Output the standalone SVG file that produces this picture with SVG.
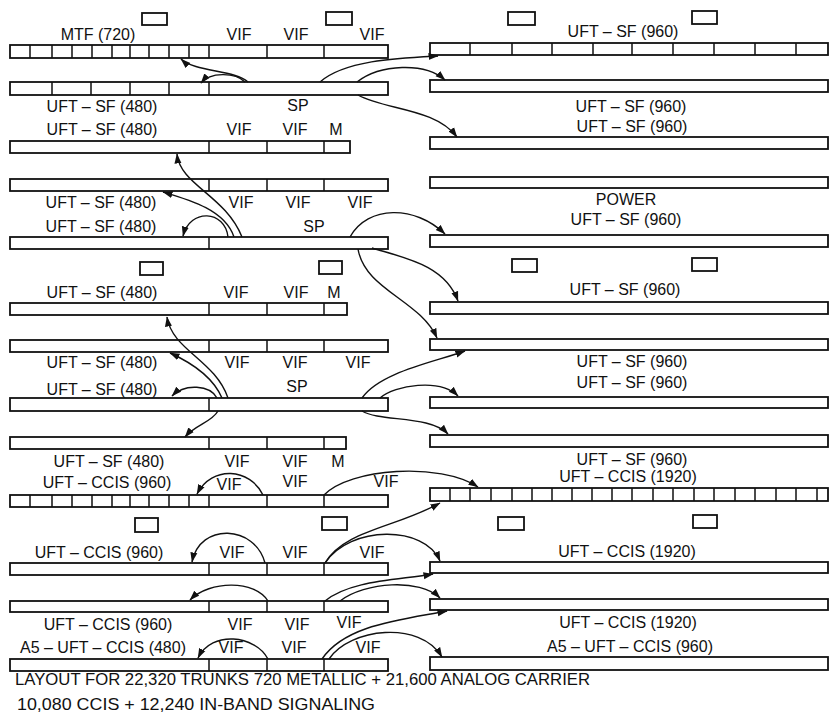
<svg xmlns="http://www.w3.org/2000/svg" width="830" height="718" viewBox="0 0 830 718">
<style>
.bar{fill:#fff;stroke:#111;stroke-width:1.8}
.div{fill:none;stroke:#111;stroke-width:1.5}
.mk{fill:#fff;stroke:#111;stroke-width:1.8}
.t{font-family:"Liberation Sans",Arial,sans-serif;font-size:16px;fill:#111;text-anchor:middle}
.f{font-family:"Liberation Sans",Arial,sans-serif;font-size:16.5px;fill:#111}
.c{fill:none;stroke:#111;stroke-width:1.4}
</style>
<defs>
<marker id="ah" markerWidth="11" markerHeight="9" refX="9.5" refY="4" orient="auto" markerUnits="userSpaceOnUse"><path d="M0,0.5 L10,4 L0,7.5 z" fill="#111"/></marker>
</defs>
<rect width="830" height="718" fill="#fff"/>

<g id="markers">
<rect class="mk" x="142" y="13" width="25" height="12"/>
<rect class="mk" x="326" y="12" width="26" height="13"/>
<rect class="mk" x="508" y="12" width="27" height="13"/>
<rect class="mk" x="692" y="11" width="25" height="13"/>
<rect class="mk" x="140" y="262" width="23" height="13"/>
<rect class="mk" x="319" y="261" width="23" height="13"/>
<rect class="mk" x="512" y="259" width="25" height="13"/>
<rect class="mk" x="692" y="258" width="25" height="13"/>
<rect class="mk" x="135" y="518" width="23" height="14"/>
<rect class="mk" x="322" y="517" width="25" height="13"/>
<rect class="mk" x="498" y="517" width="26" height="13"/>
<rect class="mk" x="693" y="515" width="24" height="13"/>
</g>

<g id="L1">
<rect class="bar" x="10" y="45" width="378" height="13"/>
<path class="div" d="M30,45v13M52,45v13M72,45v13M92,45v13M112,45v13M130,45v13M149,45v13M169,45v13M189,45v13M209,45v13M267,45v13M324,45v13"/>
<text class="t" x="98" y="40">MTF (720)</text>
<text class="t" x="239" y="40">VIF</text>
<text class="t" x="296" y="40">VIF</text>
<text class="t" x="372" y="40">VIF</text>
</g>
<g id="L2">
<rect class="bar" x="10" y="82" width="378" height="13"/>
<path class="div" d="M52,82v13M91,82v13M130,82v13M169,82v13M209,82v13"/>
<text class="t" x="102" y="112">UFT – SF (480)</text>
<text class="t" x="298" y="111">SP</text>
</g>
<g id="L3">
<text class="t" x="102" y="135">UFT – SF (480)</text>
<text class="t" x="239" y="135">VIF</text>
<text class="t" x="295" y="135">VIF</text>
<text class="t" x="336" y="135">M</text>
<rect class="bar" x="10" y="141" width="340" height="12"/>
<path class="div" d="M209,141v12M267,141v12M324,141v12"/>
</g>
<g id="L4">
<rect class="bar" x="10" y="179" width="378" height="12"/>
<path class="div" d="M209,179v12M267,179v12M324,179v12"/>
<text class="t" x="101" y="208">UFT – SF (480)</text>
<text class="t" x="241" y="208">VIF</text>
<text class="t" x="298" y="208">VIF</text>
<text class="t" x="360" y="208">VIF</text>
</g>
<g id="L5">
<text class="t" x="101" y="232">UFT – SF (480)</text>
<text class="t" x="314" y="232">SP</text>
<rect class="bar" x="10" y="237" width="378" height="12"/>
<path class="div" d="M209,237v12"/>
</g>
<g id="L6">
<text class="t" x="102" y="298">UFT – SF (480)</text>
<text class="t" x="236" y="298">VIF</text>
<text class="t" x="296" y="298">VIF</text>
<text class="t" x="334" y="298">M</text>
<rect class="bar" x="10" y="303" width="337" height="12"/>
<path class="div" d="M209,303v12M267,303v12M324,303v12"/>
</g>
<g id="L7">
<rect class="bar" x="10" y="340" width="378" height="12"/>
<path class="div" d="M209,340v12M267,340v12M324,340v12"/>
<text class="t" x="102" y="368">UFT – SF (480)</text>
<text class="t" x="237" y="368">VIF</text>
<text class="t" x="295" y="368">VIF</text>
<text class="t" x="358" y="368">VIF</text>
</g>
<g id="L8">
<text class="t" x="102" y="395">UFT – SF (480)</text>
<text class="t" x="297" y="392">SP</text>
<rect class="bar" x="10" y="398" width="378" height="13"/>
<path class="div" d="M209,398v13"/>
</g>
<g id="L9">
<rect class="bar" x="10" y="437" width="336" height="12"/>
<path class="div" d="M209,437v12M267,437v12M324,437v12"/>
<text class="t" x="109" y="467">UFT – SF (480)</text>
<text class="t" x="237" y="467">VIF</text>
<text class="t" x="295" y="467">VIF</text>
<text class="t" x="338" y="467">M</text>
</g>
<g id="L10">
<text class="t" x="107" y="488">UFT – CCIS (960)</text>
<text class="t" x="229" y="490">VIF</text>
<text class="t" x="295" y="487">VIF</text>
<text class="t" x="386" y="487">VIF</text>
<rect class="bar" x="10" y="495" width="378" height="12"/>
<path class="div" d="M30,495v12M52,495v12M72,495v12M92,495v12M112,495v12M130,495v12M149,495v12M169,495v12M189,495v12M209,495v12M267,495v12M324,495v12"/>
</g>
<g id="L11">
<text class="t" x="99" y="558">UFT – CCIS (960)</text>
<text class="t" x="232" y="558">VIF</text>
<text class="t" x="295" y="558">VIF</text>
<text class="t" x="372" y="558">VIF</text>
<rect class="bar" x="10" y="563" width="378" height="12"/>
<path class="div" d="M209,563v12M267,563v12M324,563v12"/>
</g>
<g id="L12">
<rect class="bar" x="10" y="601" width="378" height="11"/>
<path class="div" d="M209,601v11M267,601v11M324,601v11"/>
<text class="t" x="108" y="630">UFT – CCIS (960)</text>
<text class="t" x="240" y="630">VIF</text>
<text class="t" x="297" y="630">VIF</text>
<text class="t" x="349" y="628">VIF</text>
</g>
<g id="L13">
<text class="t" x="103" y="653">A5 – UFT – CCIS (480)</text>
<text class="t" x="231" y="653">VIF</text>
<text class="t" x="294" y="653">VIF</text>
<text class="t" x="368" y="653">VIF</text>
<rect class="bar" x="10" y="659" width="378" height="12"/>
<path class="div" d="M209,659v12M267,659v12M324,659v12"/>
</g>

<g id="R1">
<text class="t" x="623" y="37">UFT – SF (960)</text>
<rect class="bar" x="430" y="43" width="398" height="12"/>
<path class="div" d="M470,43v12M512,43v12M552,43v12M593,43v12M632,43v12M673,43v12M714,43v12M755,43v12M796,43v12"/>
</g>
<g id="R2">
<rect class="bar" x="430" y="80" width="398" height="12"/>
<text class="t" x="631" y="112">UFT – SF (960)</text>
</g>
<g id="R3">
<text class="t" x="632" y="132">UFT – SF (960)</text>
<rect class="bar" x="430" y="137" width="398" height="12"/>
</g>
<g id="R4">
<rect class="bar" x="430" y="177" width="398" height="11"/>
<text class="t" x="626" y="205">POWER</text>
</g>
<g id="R5">
<text class="t" x="626" y="225">UFT – SF (960)</text>
<rect class="bar" x="430" y="235" width="398" height="12"/>
</g>
<g id="R6">
<text class="t" x="625" y="295">UFT – SF (960)</text>
<rect class="bar" x="430" y="302" width="398" height="12"/>
</g>
<g id="R7">
<rect class="bar" x="430" y="339" width="398" height="11"/>
<text class="t" x="632" y="367">UFT – SF (960)</text>
</g>
<g id="R8">
<text class="t" x="632" y="388">UFT – SF (960)</text>
<rect class="bar" x="430" y="397" width="398" height="11"/>
</g>
<g id="R9">
<rect class="bar" x="430" y="435" width="398" height="12"/>
<text class="t" x="632" y="465">UFT – SF (960)</text>
</g>
<g id="R10">
<text class="t" x="628" y="482">UFT – CCIS (1920)</text>
<rect class="bar" x="430" y="488" width="398" height="13"/>
<path class="div" d="M450,488v13M470,488v13M491,488v13M512,488v13M532,488v13M552,488v13M572,488v13M592,488v13M612,488v13M632,488v13M653,488v13M673,488v13M694,488v13M714,488v13M735,488v13M755,488v13M776,488v13M796,488v13M817,488v13"/>
</g>
<g id="R11">
<text class="t" x="627" y="557">UFT – CCIS (1920)</text>
<rect class="bar" x="430" y="562" width="398" height="11"/>
</g>
<g id="R12">
<rect class="bar" x="430" y="599" width="398" height="11"/>
<text class="t" x="628" y="628">UFT – CCIS (1920)</text>
</g>
<g id="R13">
<text class="t" x="630" y="652">A5 – UFT – CCIS (960)</text>
<rect class="bar" x="430" y="657" width="398" height="13"/>
</g>

<g id="connectors" marker-end="url(#ah)">
<path class="c" marker-end="url(#ah)" d="M248,82 C235,70 195,72 181,59"/>
<path class="c" marker-end="url(#ah)" d="M245,82 C235,72 210,72 201,83"/>
<path class="c" marker-end="url(#ah)" d="M320,82 C345,60 400,58 438,56"/>
<path class="c" marker-end="url(#ah)" d="M357,82 C380,64 425,62 445,80"/>
<path class="c" marker-end="url(#ah)" d="M358,95 C385,110 435,108 457,137"/>
<path class="c" marker-end="url(#ah)" d="M242,237 C225,195 180,185 177,154"/>
<path class="c" marker-end="url(#ah)" d="M234,237 C225,210 190,200 163,192"/>
<path class="c" marker-end="url(#ah)" d="M228,237 C225,210 190,208 183,236"/>
<path class="c" marker-end="url(#ah)" d="M350,237 C368,205 415,205 445,234"/>
<path class="c" marker-end="url(#ah)" d="M372,248 C405,258 445,265 458,301"/>
<path class="c" marker-end="url(#ah)" d="M358,249 C365,290 420,300 437,338"/>
<path class="c" marker-end="url(#ah)" d="M228,398 C215,360 172,350 167,317"/>
<path class="c" marker-end="url(#ah)" d="M222,398 C212,375 190,362 170,353"/>
<path class="c" marker-end="url(#ah)" d="M217,398 C210,385 185,383 172,396"/>
<path class="c" marker-end="url(#ah)" d="M218,411 C212,422 195,425 185,437"/>
<path class="c" marker-end="url(#ah)" d="M362,398 C380,372 435,362 465,351"/>
<path class="c" marker-end="url(#ah)" d="M380,398 C395,385 440,378 458,396"/>
<path class="c" marker-end="url(#ah)" d="M362,411 C380,422 430,415 448,434"/>
<path class="c" marker-end="url(#ah)" d="M263,495 C250,468 212,465 197,494"/>
<path class="c" marker-end="url(#ah)" d="M324,495 C350,468 440,462 478,487"/>
<path class="c" marker-end="url(#ah)" d="M325,563 C345,530 395,528 440,503"/>
<path class="c" marker-end="url(#ah)" d="M325,563 C350,525 425,525 440,561"/>
<path class="c" marker-end="url(#ah)" d="M265,563 C255,525 200,522 192,562"/>
<path class="c" marker-end="url(#ah)" d="M268,601 C255,580 210,580 190,600"/>
<path class="c" marker-end="url(#ah)" d="M325,601 C350,580 400,580 433,574"/>
<path class="c" marker-end="url(#ah)" d="M340,601 C365,582 420,578 440,598"/>
<path class="c" marker-end="url(#ah)" d="M268,659 C255,635 212,630 198,658"/>
<path class="c" marker-end="url(#ah)" d="M322,659 C345,625 400,620 447,611"/>
<path class="c" marker-end="url(#ah)" d="M329,659 C350,628 420,620 442,657"/>
</g>

<g id="caption">
<text class="f" x="15" y="685" textLength="575" lengthAdjust="spacingAndGlyphs">LAYOUT FOR 22,320 TRUNKS 720 METALLIC + 21,600 ANALOG CARRIER</text>
<text class="f" x="17" y="710" textLength="358" lengthAdjust="spacingAndGlyphs">10,080 CCIS + 12,240 IN-BAND SIGNALING</text>
</g>
</svg>
